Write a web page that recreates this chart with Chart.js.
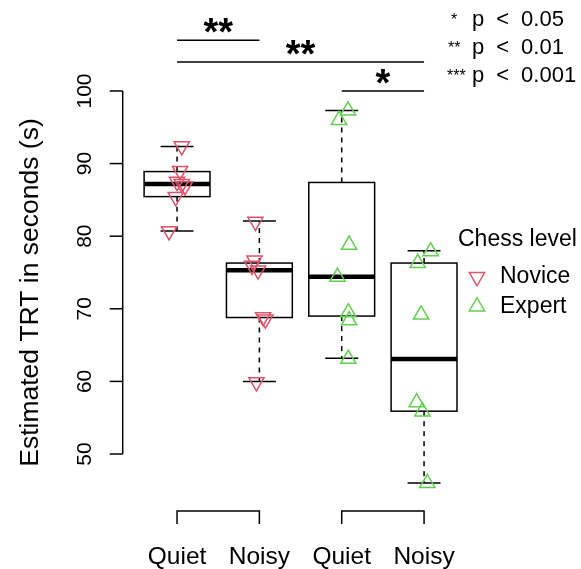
<!DOCTYPE html>
<html><head><meta charset="utf-8">
<script src="https://cdn.jsdelivr.net/npm/chart.js@4/dist/chart.umd.min.js"></script>
<style>html,body{margin:0;padding:0;background:#fff;overflow:hidden}canvas{display:block}</style>
</head><body>
<canvas id="c" width="581" height="569"></canvas>
<script>
// ---- data ----
const groupLabels = ['Quiet', 'Noisy', 'Quiet', 'Noisy'];
const yTickValues = [50, 60, 70, 80, 90, 100];
const yTitle = 'Estimated TRT in seconds (s)';

// novice (red, down triangles): values and horizontal jitter
const noviceQuiet = [92.4, 89.0, 87.5, 87.2, 86.9, 85.4, 80.7];
const noviceQuietJit = [0.057, 0.036, 0.0, 0.057, 0.097, -0.016, -0.097];
const noviceNoisy = [82.0, 76.65, 75.95, 75.3, 68.85, 68.55, 59.9];
const noviceNoisyJit = [-0.048, -0.06, -0.09, -0.016, 0.045, 0.073, -0.036];
// expert (green, up triangles)
const expertQuiet = [97.3, 96.0, 78.8, 74.4, 69.5, 68.4, 63.1];
const expertQuietJit = [0.077, -0.033, 0.09, -0.052, 0.08, 0.09, 0.08];
const expertNoisy = [77.9, 76.3, 69.2, 57.1, 55.85, 46.0];
const expertNoisyJit = [0.08, -0.077, -0.036, -0.09, -0.02, 0.04];

// box summaries per group (lower whisker, Q1, median, Q3, upper whisker)
const boxLow = [80.7, 60.0, 63.2, 46.0];
const boxQ1 = [85.45, 68.8, 69.0, 55.9];
const boxMed = [87.2, 75.3, 74.4, 63.1];
const boxQ3 = [88.9, 76.3, 87.4, 76.3];
const boxHigh = [92.35, 82.1, 97.3, 78.0];

// significance bars
const sigFrom = [1, 1, 3];
const sigTo = [2, 4, 4];
const sigLevel = [107.0, 104.0, 100.0];
const sigText = ['**', '**', '*'];
const pKeySymbols = ['*', '**', '***'];
const pKeyValues = ['0.05', '0.01', '0.001'];

// group brackets under the axis
const bracketFrom = [1, 3];
const bracketTo = [2, 4];

const legendTitle = 'Chess level';
const legendNames = ['Novice', 'Expert'];
const RED = '#DF536B', GREEN = '#61D04F';
const FONT = '"Liberation Sans", Arial, Helvetica, sans-serif';

function pts(vals, jit, cat) { return vals.map((v, i) => ({x: cat + jit[i], y: v})); }

const datasets = [
  {label: 'Novice', data: pts(noviceQuiet, noviceQuietJit, 1).concat(pts(noviceNoisy, noviceNoisyJit, 2)),
   pointStyle: 'triangle', rotation: 180, borderColor: RED},
  {label: 'Expert', data: pts(expertQuiet, expertQuietJit, 3).concat(pts(expertNoisy, expertNoisyJit, 4)),
   pointStyle: 'triangle', rotation: 0, borderColor: GREEN}
].map(d => Object.assign(d, {backgroundColor: 'rgba(0,0,0,0)', pointRadius: 8.8, pointBorderWidth: 1.5,
  pointHoverRadius: 8.8, showLine: false}));

function seg(ctx, x1, y1, x2, y2) { ctx.beginPath(); ctx.moveTo(x1, y1); ctx.lineTo(x2, y2); ctx.stroke(); }

const rPlot = {
  id: 'rPlot',
  beforeDatasetsDraw(chart) {
    const {ctx} = chart, X = chart.scales.x, Y = chart.scales.y;
    const py = v => Y.getPixelForValue(v);
    ctx.save();
    ctx.strokeStyle = '#000';
    for (let i = 0; i < groupLabels.length; i++) {
      const c = i + 1;
      const xl = X.getPixelForValue(c - 0.4), xr = X.getPixelForValue(c + 0.4), xc = X.getPixelForValue(c);
      const sl = X.getPixelForValue(c - 0.2), sr = X.getPixelForValue(c + 0.2);
      ctx.lineWidth = 1.5;
      ctx.setLineDash([5, 5]);
      seg(ctx, xc, py(boxQ3[i]), xc, py(boxHigh[i]));
      seg(ctx, xc, py(boxQ1[i]), xc, py(boxLow[i]));
      ctx.setLineDash([]);
      seg(ctx, sl, py(boxHigh[i]), sr, py(boxHigh[i]));
      seg(ctx, sl, py(boxLow[i]), sr, py(boxLow[i]));
      ctx.strokeRect(xl, py(boxQ3[i]), xr - xl, py(boxQ1[i]) - py(boxQ3[i]));
      ctx.lineWidth = 4.5;
      seg(ctx, xl, py(boxMed[i]), xr, py(boxMed[i]));
    }
    ctx.restore();
  },
  afterDraw(chart) {
    const {ctx, chartArea} = chart, X = chart.scales.x, Y = chart.scales.y;
    const py = v => Y.getPixelForValue(v);
    ctx.save();
    ctx.strokeStyle = '#000'; ctx.fillStyle = '#000'; ctx.lineWidth = 1.5;
    // y axis
    const ax = chartArea.left;
    seg(ctx, ax, py(yTickValues[0]), ax, py(yTickValues[yTickValues.length - 1]));
    ctx.font = '21px ' + FONT; ctx.textAlign = 'center'; ctx.textBaseline = 'middle';
    yTickValues.forEach(v => {
      seg(ctx, ax - 13, py(v), ax, py(v));
      ctx.save(); ctx.translate(ax - 37, py(v)); ctx.rotate(-Math.PI / 2);
      ctx.fillText(String(v), 0, 0); ctx.restore();
    });
    // y title
    ctx.save(); ctx.font = '26.5px ' + FONT;
    ctx.translate(31, (chartArea.top + chartArea.bottom) / 2 + 2); ctx.rotate(-Math.PI / 2);
    ctx.fillText(yTitle, 0, 0); ctx.restore();
    // x group labels
    ctx.font = '24.5px ' + FONT;
    groupLabels.forEach((t, i) => ctx.fillText(t, X.getPixelForValue(i + 1), 557));
    // brackets
    for (let k = 0; k < bracketFrom.length; k++) {
      const a = X.getPixelForValue(bracketFrom[k]), b = X.getPixelForValue(bracketTo[k]);
      const top = chartArea.bottom + 5, bot = chartArea.bottom + 18;
      ctx.beginPath(); ctx.moveTo(a, bot); ctx.lineTo(a, top); ctx.lineTo(b, top); ctx.lineTo(b, bot); ctx.stroke();
    }
    // significance bars
    for (let k = 0; k < sigFrom.length; k++) {
      const a = X.getPixelForValue(sigFrom[k]), b = X.getPixelForValue(sigTo[k]);
      const yy = py(sigLevel[k]);
      seg(ctx, a, yy, b, yy);
      ctx.font = 'bold 38px ' + FONT; ctx.textBaseline = 'alphabetic';
      ctx.fillText(sigText[k], X.getPixelForValue((sigFrom[k] + sigTo[k]) / 2), yy + 5);
    }
    // p-value key
    ctx.textAlign = 'left'; ctx.textBaseline = 'middle';
    pKeySymbols.forEach((s, k) => {
      const yy = 20 + 28 * k;
      ctx.font = '16px ' + FONT;
      ctx.fillText(s, 447 + (k === 0 ? 4 : k === 1 ? 1 : 0), yy + 1);
      ctx.font = '22px ' + FONT;
      let xx = 472;
      ctx.fillText('p', xx, yy); xx += ctx.measureText('p').width + 12;
      ctx.fillText('<', xx, yy); xx += ctx.measureText('<').width + 12;
      ctx.fillText(pKeyValues[k], xx, yy);
    });
    // chess level legend
    ctx.font = '23px ' + FONT;
    ctx.fillText(legendTitle, 458, 240);
    const cols = [RED, GREEN];
    legendNames.forEach((n, k) => {
      const yy = 277 + 29.5 * k;
      ctx.fillStyle = '#000';
      ctx.fillText(n, 500, yy);
      ctx.save(); ctx.strokeStyle = cols[k]; ctx.fillStyle = 'rgba(0,0,0,0)'; ctx.lineWidth = 1.5;
      Chart.helpers.drawPoint(ctx, {pointStyle: 'triangle', rotation: k === 0 ? 180 : 0, radius: 8.8, borderWidth: 1.5}, 477, yy);
      ctx.restore();
    });
    ctx.restore();
  }
};

new Chart(document.getElementById('c'), {
  type: 'scatter',
  data: {datasets},
  options: {
    responsive: false, animation: false, devicePixelRatio: 1,
    layout: {padding: {left: 122.7, right: 102.6, top: 75, bottom: 63}},
    plugins: {legend: {display: false}, tooltip: {enabled: false}},
    scales: {
      x: {type: 'linear', min: 0.34, max: 4.66, display: false},
      y: {type: 'linear', min: 42.84, max: 102.2, display: false}
    }
  },
  plugins: [rPlot]
});
</script>
</body></html>
